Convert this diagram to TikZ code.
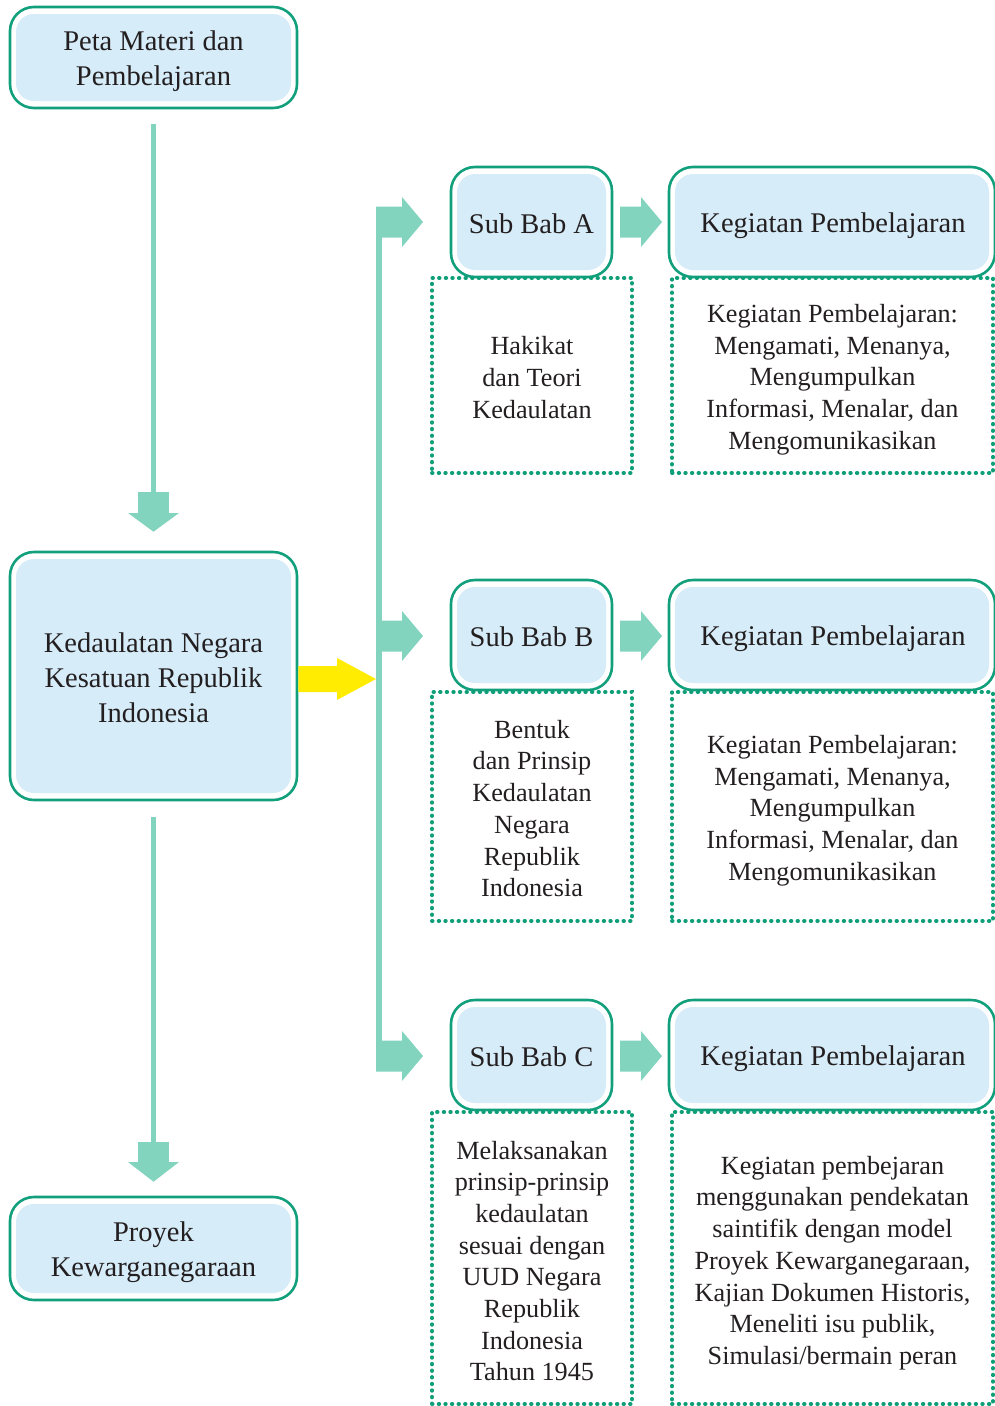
\documentclass[tikz,border=0pt]{standalone}
\usepackage{fontspec}
\setmainfont{Liberation Serif}
\definecolor{bordergreen}{HTML}{12A07C}
\definecolor{dotgreen}{HTML}{0E9E78}
\definecolor{boxblue}{HTML}{D6ECF9}
\definecolor{arrowteal}{HTML}{82D4BE}
\definecolor{arrowyellow}{HTML}{FFEC00}
\definecolor{textc}{HTML}{231F20}
\tikzset{
  rbox/.style={rectangle, draw=bordergreen, line width=2.6pt, fill=white,
    rounded corners=24pt, inner sep=0pt,
    path picture={\fill[boxblue, rounded corners=18pt]
      ([shift={(6pt,-7pt)}]path picture bounding box.north west) rectangle
      ([shift={(-6pt,7pt)}]path picture bounding box.south east);}},
  headtext/.style={align=center, inner sep=0pt, text=textc,
    font=\fontsize{28.5}{35}\selectfont},
  dotbox/.style={rectangle, draw=dotgreen, line width=3.8pt,
    dash pattern=on 0.6pt off 6pt, line cap=round, inner sep=0pt},
  bodytext/.style={align=center, inner sep=0pt, text=textc,
    font=\fontsize{26.2}{31.7}\selectfont},
  blockarrow/.style={fill=arrowteal, draw=none},
}
\begin{document}
\begin{tikzpicture}[x=1pt,y=-1pt]
\useasboundingbox (0,0) rectangle (994,1406);
% left column
\node[rbox, minimum width=287pt, minimum height=101pt] (peta) at (153.5,57.5) {};
\node[headtext] (petaT) at ([yshift=-4pt]peta.center) {Peta Materi dan\\Pembelajaran};
\node[rbox, minimum width=287pt, minimum height=248pt] (kedaulatan) at (153.5,676) {};
\node[headtext] (kedaulatanT) at ([yshift=-2pt]kedaulatan.center) {Kedaulatan Negara\\Kesatuan Republik\\Indonesia};
\node[rbox, minimum width=287pt, minimum height=103pt] (proyek) at (153.5,1248.5) {};
\node[headtext] (proyekT) at ([yshift=-4pt]proyek.center) {Proyek\\Kewarganegaraan};
% sub bab boxes
\node[rbox, minimum width=161pt, minimum height=110pt] (subA) at (531.5,222) {};
\node[headtext] at ([yshift=-2pt]subA.center) {Sub Bab A};
\node[rbox, minimum width=161pt, minimum height=110pt] (subB) at (531.5,635) {};
\node[headtext] at ([yshift=-2pt]subB.center) {Sub Bab B};
\node[rbox, minimum width=161pt, minimum height=110pt] (subC) at (531.5,1055) {};
\node[headtext] at ([yshift=-2pt]subC.center) {Sub Bab C};
\node[rbox, minimum width=326pt, minimum height=110pt] (kegA) at (832,222) {};
\node[headtext] at ([shift={(1pt,-4pt)}]kegA.center) {Kegiatan Pembelajaran};
\node[rbox, minimum width=326pt, minimum height=110pt] (kegB) at (832,635) {};
\node[headtext] at ([shift={(1pt,-4pt)}]kegB.center) {Kegiatan Pembelajaran};
\node[rbox, minimum width=326pt, minimum height=110pt] (kegC) at (832,1055) {};
\node[headtext] at ([shift={(1pt,-4pt)}]kegC.center) {Kegiatan Pembelajaran};
% dotted boxes
\node[dotbox, minimum width=200pt, minimum height=195pt] (isiA) at (532,375.5) {};
\node[bodytext] at ([yshift=-2pt]isiA.center) {Hakikat\\dan Teori\\Kedaulatan};
\node[dotbox, minimum width=321pt, minimum height=195pt] (kegiA) at (832.5,375.5) {};
\node[bodytext] at ([yshift=-4pt]kegiA.center) {Kegiatan Pembelajaran:\\Mengamati, Menanya,\\Mengumpulkan\\Informasi, Menalar, dan\\Mengomunikasikan};
\node[dotbox, minimum width=200pt, minimum height=229pt] (isiB) at (532,806.5) {};
\node[bodytext] at ([yshift=-2pt]isiB.center) {Bentuk\\dan Prinsip\\Kedaulatan\\Negara\\Republik\\Indonesia};
\node[dotbox, minimum width=321pt, minimum height=229pt] (kegiB) at (832.5,806.5) {};
\node[bodytext] at ([yshift=-4pt]kegiB.center) {Kegiatan Pembelajaran:\\Mengamati, Menanya,\\Mengumpulkan\\Informasi, Menalar, dan\\Mengomunikasikan};
\node[dotbox, minimum width=200pt, minimum height=292pt] (isiC) at (532,1258) {};
\node[bodytext] at ([yshift=-3pt]isiC.center) {Melaksanakan\\prinsip-prinsip\\kedaulatan\\sesuai dengan\\UUD Negara\\Republik\\Indonesia\\Tahun 1945};
\node[dotbox, minimum width=321pt, minimum height=292pt] (kegiC) at (832.5,1258) {};
\node[bodytext] at ([yshift=-5pt]kegiC.center) {Kegiatan pembejaran\\menggunakan pendekatan\\saintifik dengan model\\Proyek Kewarganegaraan,\\Kajian Dokumen Historis,\\Meneliti isu publik,\\Simulasi/bermain peran};
% down arrows
\fill[blockarrow] ([xshift=-2.5pt]peta.south |- 0,124) rectangle ([xshift=2.5pt]peta.south |- 0,492);
\fill[blockarrow] (138,492) rectangle (168.5,513);
\fill[blockarrow] (128,513) -- (179,513) -- ([yshift=19pt]kedaulatan.north) -- cycle;
\fill[blockarrow] ([xshift=-2.5pt]kedaulatan.south |- 0,817) rectangle ([xshift=2.5pt]kedaulatan.south |- 0,1142);
\fill[blockarrow] (138,1142) rectangle (168.5,1162);
\fill[blockarrow] (128,1162) -- (179,1162) -- ([yshift=14pt]proyek.north) -- cycle;
% yellow arrow
\fill[arrowyellow] (kedaulatan.east |- 0,666) -- (337,666) -- (337,658) -- (376,679) -- (337,700) -- (337,692) -- (kedaulatan.east |- 0,692) -- cycle;
% vertical bar
\fill[blockarrow] (376,207) rectangle (382,1071);
% branch arrows
\foreach \cy in {222,636,1056}{
  \fill[blockarrow] (376,\cy-15.5) -- (402,\cy-15.5) -- (402,\cy-25) -- (423,\cy) -- (402,\cy+25) -- (402,\cy+15.5) -- (376,\cy+15.5) -- cycle;
  \fill[blockarrow] (620,\cy-15.5) -- (641,\cy-15.5) -- (641,\cy-25) -- (662,\cy) -- (641,\cy+25) -- (641,\cy+15.5) -- (620,\cy+15.5) -- cycle;
}
\end{tikzpicture}
\end{document}
